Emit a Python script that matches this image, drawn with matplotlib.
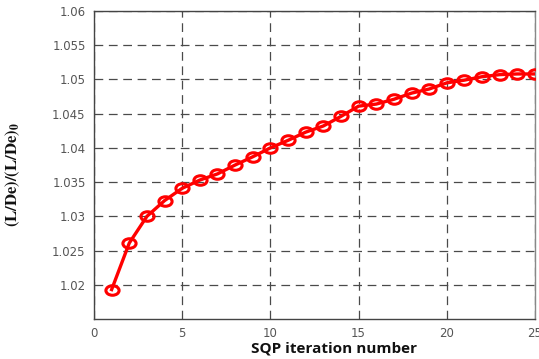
import matplotlib

matplotlib.use("Agg")
import matplotlib.pyplot as plt
from matplotlib.path import Path
from matplotlib.transforms import Affine2D

# SQP convergence history of the normalized lift-to-drag ratio
iterations = list(range(1, 26))
ld_ratio = [
    1.0193, 1.0261, 1.0300, 1.0323, 1.0341,
    1.0353, 1.0362, 1.0375, 1.0387, 1.0400,
    1.0411, 1.0423, 1.0432, 1.0446, 1.0461,
    1.0464, 1.0471, 1.0480, 1.0486, 1.0495,
    1.0499, 1.0504, 1.0507, 1.0508, 1.0508,
]
x_ticks = [0, 5, 10, 15, 20, 25]
y_ticks = [1.02, 1.025, 1.03, 1.035, 1.04, 1.045, 1.05, 1.055, 1.06]
y_tick_labels = ["1.02", "1.025", "1.03", "1.035", "1.04", "1.045", "1.05", "1.055", "1.06"]

plt.rcParams["mathtext.fontset"] = "stix"

# the original screenshot is slightly stretched, so the circles look flat
ellipse = Path.unit_circle().transformed(Affine2D().scale(1.0, 0.72))

fig = plt.figure(figsize=(5.39, 3.59), dpi=100)
axis = fig.add_axes([0.1744, 0.1114, 0.8182, 0.858])

axis.plot(
    iterations,
    ld_ratio,
    color="#ff0000",
    linewidth=2.4,
    marker=ellipse,
    markersize=9.5,
    markerfacecolor="none",
    markeredgecolor="#ff0000",
    markeredgewidth=2.2,
    zorder=3,
)

axis.set_xlim(0, 25)
axis.set_ylim(1.015, 1.06)
axis.set_xticks(x_ticks)
axis.set_yticks(y_ticks)
axis.set_yticklabels(y_tick_labels)
axis.tick_params(length=0, labelsize=8.5, labelcolor="#555555", pad=6)
axis.grid(True, color="#4a4a4a", linestyle=(0, (7, 4.5)), linewidth=0.9)

for spine in axis.spines.values():
    spine.set_color("#444444")
    spine.set_linewidth(1.0)
axis.spines["right"].set_color("#888888")

axis.set_xlabel("SQP iteration number", fontsize=11, fontweight="bold",
                family="Open Sans", color="#111111")
axis.xaxis.set_label_coords(0.544, -0.072)
axis.set_ylabel(r"$\mathbf{(L/De)/(L/De)_0}$", fontsize=12, color="#111111")
axis.yaxis.set_label_coords(-0.163, 0.468)

fig.savefig("out.png", dpi=100)
